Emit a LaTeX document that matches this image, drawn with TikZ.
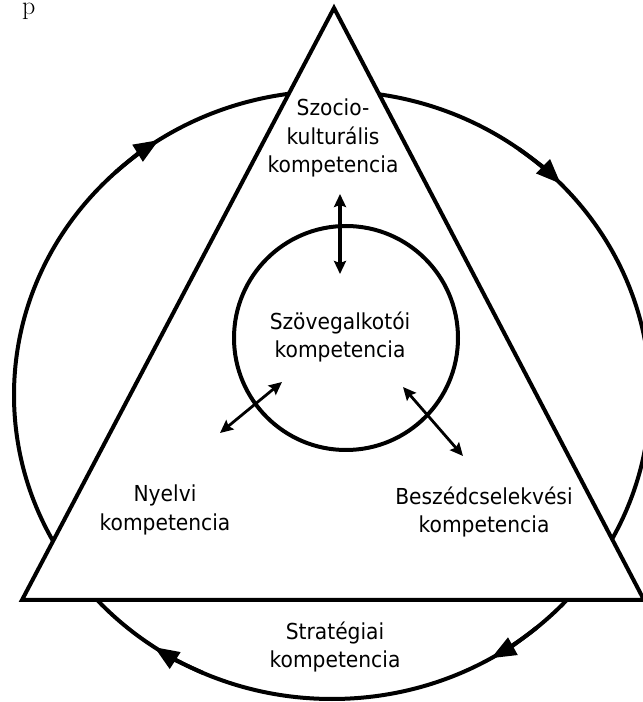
\documentclass[tikz,border=0pt]{standalone}
\usepackage{fontspec}
\newfontfamily\lblfont{DejaVu Sans}[FakeStretch=0.92]
\usetikzlibrary{arrows.meta,calc}
\begin{document}
\begin{tikzpicture}[x=1pt,y=1pt,
  outline/.style={line width=4pt, line join=miter},
  txt/.style={font=\lblfont\fontsize{22}{28.5}\selectfont, align=center, inner sep=0pt},
  flowhead/.style={line width=4pt, -{Triangle[length=25pt,width=19pt]}},
  link/.style={line width=2.8pt, {Stealth[length=13pt,width=12pt,inset=2pt]}-{Stealth[length=13pt,width=12pt,inset=2pt]}}]
\useasboundingbox (0,0) rectangle (643,702);
\fill[white] (0,0) rectangle (643,702);

% stray letter at the top edge
\node[anchor=north west, inner sep=0pt, font=\fontsize{26}{30}\selectfont] (frag) at (22,699) {p};

% outer cycle with clockwise arrowheads
\coordinate (oc) at (332,307);
\draw[outline] (oc) ellipse [x radius=318, y radius=304];
\foreach \a in {133,54,-50,-114}
  \draw[flowhead] ($(oc)+(\a:318 and 304)$) arc[start angle=\a, delta angle=-10, x radius=318, y radius=304];

% triangle
\coordinate (apex) at (334,694);
\coordinate (bl) at (22,102);
\coordinate (br) at (644,102);
\draw[outline, fill=white] (apex) -- (bl) -- (br) -- cycle;

% inner circle
\node[draw, circle, line width=4pt, minimum size=224pt, inner sep=0pt] (core) at (346,364) {};

% labels
\node[txt] (socio) at (333,564) {Szocio-\\kulturális\\kompetencia};
\node[txt] (text) at (340,365) {Szövegalkotói\\kompetencia};
\node[txt] (lang) at (165,192) {Nyelvi\\kompetencia};
\node[txt] (speech) at (484,190) {Beszédcselekvési\\kompetencia};
\node[txt] (strat) at (335,55) {Stratégiai\\kompetencia};

% links between the inner circle and the corners
\coordinate (vt) at (340,508);
\coordinate (vb) at (340,428);
\coordinate (lo) at (220,269);
\coordinate (li) at (282,320);
\coordinate (ri) at (403,315);
\coordinate (ro) at (463,246);
\draw[link, line width=4pt] (vt) -- (vb);
\draw[link] (lo) -- (li);
\draw[link] (ri) -- (ro);
\end{tikzpicture}
\end{document}
